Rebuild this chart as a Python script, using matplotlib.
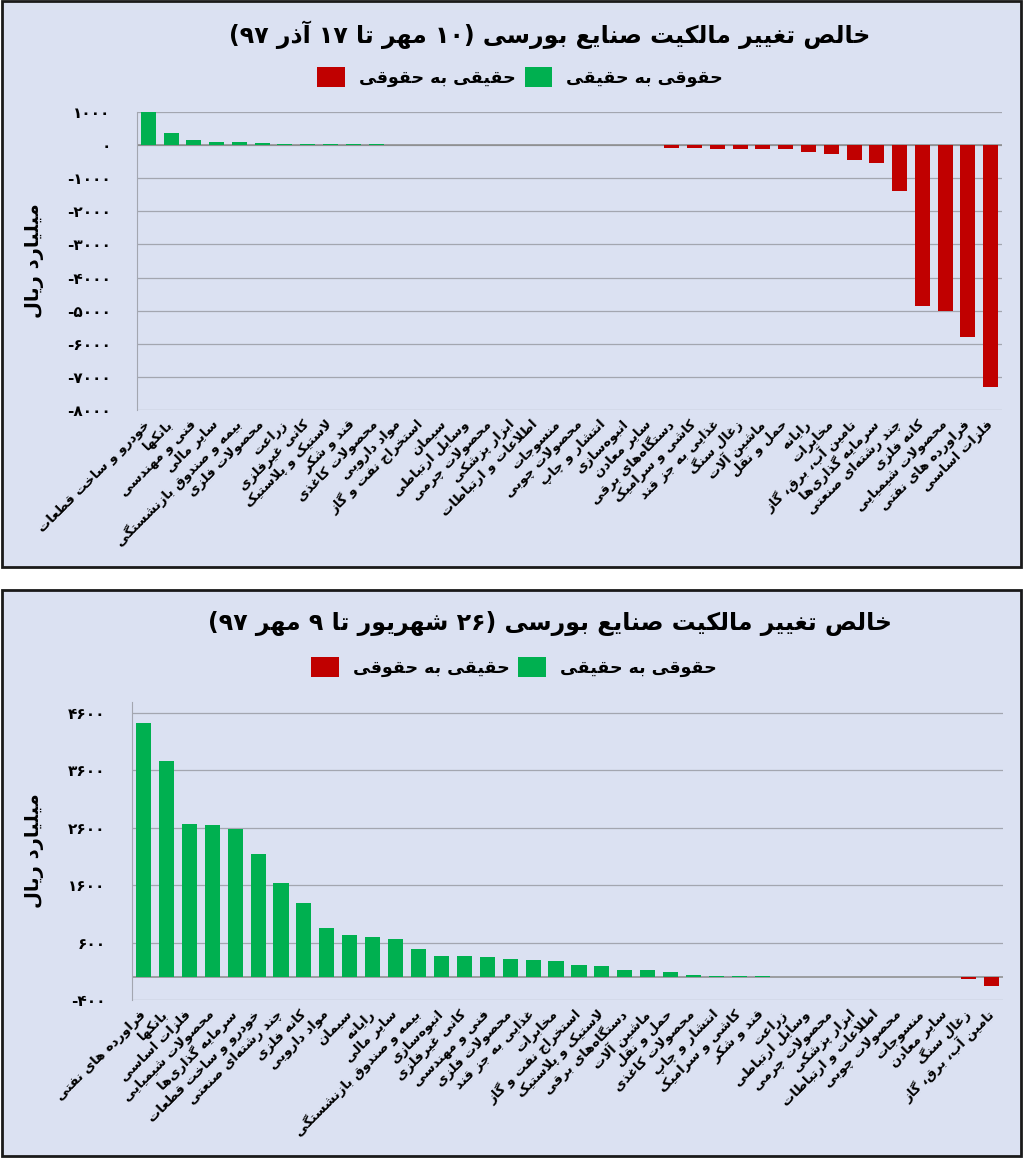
import re
import matplotlib
matplotlib.use('Agg')
import matplotlib.pyplot as plt
from matplotlib.patches import Rectangle, Patch

plt.rcParams['font.family'] = ['DejaVu Sans']
plt.rcParams['font.weight'] = 'bold'

# ---- data ----
title_top = 'خالص تغییر مالکیت صنایع بورسی (۱۰ مهر تا ۱۷ آذر ۹۷)'
title_bot = 'خالص تغییر مالکیت صنایع بورسی (۲۶ شهریور تا ۹ مهر ۹۷)'
legend_names = ['حقیقی به حقوقی', 'حقوقی به حقیقی']
ylabel = 'میلیارد ریال'

top_cats = [
    'خودرو و ساخت قطعات', 'بانکها', 'فنی و مهندسی', 'سایر مالی',
    'بیمه و صندوق بازنشستگی', 'محصولات فلزی', 'زراعت', 'کانی غیرفلزی',
    'لاستیک و پلاستیک', 'قند و شکر', 'محصولات کاغذی', 'مواد دارویی',
    'استخراج نفت و گاز', 'سیمان', 'وسایل ارتباطی', 'محصولات چرمی',
    'ابزار پزشکی', 'اطلاعات و ارتباطات', 'منسوجات', 'محصولات چوبی',
    'انتشار و چاپ', 'انبوه‌سازی', 'سایر معادن', 'دستگاه‌های برقی',
    'کاشی و سرامیک', 'غذایی به جز قند', 'زغال سنگ', 'ماشین آلات',
    'حمل و نقل', 'رایانه', 'مخابرات', 'تامین آب، برق، گاز',
    'سرمایه گذاری‌ها', 'چند رشته‌ای صنعتی', 'کانه فلزی', 'محصولات شیمیایی',
    'فراورده های نفتی', 'فلزات اساسی',
]
top_vals = [1000, 360, 150, 80, 100, 60, 40, 30, 30, 25, 20, 10, 5,
            3, 2, 1, 0, 0, 0, 0, 0, 0, 0,
            -80, -100, -130, -130, -130, -130, -200, -280, -450, -530,
            -1400, -4850, -5020, -5800, -7300]
top_ticks = [1000, 0, -1000, -2000, -3000, -4000, -5000, -6000, -7000, -8000]

bot_cats = [
    'فراورده های نفتی', 'بانکها', 'فلزات اساسی', 'محصولات شیمیایی',
    'سرمایه گذاری‌ها', 'خودرو و ساخت قطعات', 'چند رشته‌ای صنعتی', 'کانه فلزی',
    'مواد دارویی', 'سیمان', 'رایانه', 'سایر مالی',
    'بیمه و صندوق بازنشستگی', 'انبوه‌سازی', 'کانی غیرفلزی', 'فنی و مهندسی',
    'محصولات فلزی', 'غذایی به جز قند', 'مخابرات', 'استخراج نفت و گاز',
    'لاستیک و پلاستیک', 'دستگاه‌های برقی', 'ماشین آلات', 'حمل و نقل',
    'محصولات کاغذی', 'انتشار و چاپ', 'کاشی و سرامیک', 'قند و شکر',
    'زراعت', 'وسایل ارتباطی', 'محصولات چرمی', 'ابزار پزشکی',
    'اطلاعات و ارتباطات', 'محصولات چوبی', 'منسوجات', 'سایر معادن',
    'زغال سنگ', 'تامین آب، برق، گاز',
]
bot_vals = [4430, 3767, 2674, 2640, 2587, 2151, 1645, 1297, 855, 727, 698, 669,
            491, 366, 366, 354, 314, 291, 286, 217, 194, 126, 126, 91,
            34, 23, 17, 17, 8, 5, 4, 3, 2, 0, 0, 0, -34, -160]
bot_ticks = [4600, 3600, 2600, 1600, 600, -400]

GREEN = '#00b050'
RED = '#c00000'
BG = '#dbe1f2'

# ---- simple persian shaping (matplotlib has no complex text layout) ----
LA, LAA = '\ue000', '\ue001'
DUAL = {'ب': 0xFE8F, 'ت': 0xFE95, 'ث': 0xFE99, 'ج': 0xFE9D, 'ح': 0xFEA1,
        'خ': 0xFEA5, 'س': 0xFEB1, 'ش': 0xFEB5, 'ص': 0xFEB9, 'ض': 0xFEBD,
        'ط': 0xFEC1, 'ظ': 0xFEC5, 'ع': 0xFEC9, 'غ': 0xFECD, 'ف': 0xFED1,
        'ق': 0xFED5, 'ل': 0xFEDD, 'م': 0xFEE1, 'ن': 0xFEE5, 'ه': 0xFEE9,
        'ي': 0xFEF1, 'ك': 0xFED9,
        'پ': 0xFB56, 'چ': 0xFB7A, 'ک': 0xFB8E, 'گ': 0xFB92, 'ی': 0xFBFC}
RIGHT = {'ا': 0xFE8D, 'آ': 0xFE81, 'د': 0xFEA9, 'ذ': 0xFEAB, 'ر': 0xFEAD,
         'ز': 0xFEAF, 'ژ': 0xFB8A, 'و': 0xFEED, LA: 0xFEFB, LAA: 0xFEF5}
MIRROR = str.maketrans('()', ')(')
FA_DIGITS = str.maketrans('0123456789', '۰۱۲۳۴۵۶۷۸۹')


def shape(s):
    s = s.replace('لا', LA).replace('لآ', LAA)
    out = []
    for i, c in enumerate(s):
        if c in DUAL:
            base, dual = DUAL[c], True
        elif c in RIGHT:
            base, dual = RIGHT[c], False
        else:
            out.append(c)
            continue
        p = s[i - 1] if i > 0 else ''
        n = s[i + 1] if i + 1 < len(s) else ''
        jp = p in DUAL
        jn = dual and (n in DUAL or n in RIGHT)
        k = 3 if (jp and jn) else 1 if jp else 2 if jn else 0
        out.append(chr(base + k))
    return ''.join(out).replace('\u200c', '')


def visual(s):
    parts = re.findall(r'\d+|\D+', s)
    res = []
    for p in reversed(parts):
        res.append(p if p[0].isdigit() else p[::-1].translate(MIRROR))
    return ''.join(res)


def fa(s):
    return '\n'.join(visual(shape(line)) for line in s.split('\n'))


def fa_num(v):
    return ('-' if v < 0 else '') + str(abs(v)).translate(FA_DIGITS)


fig = plt.figure(figsize=(10.24, 11.58), dpi=100, facecolor='white')
W, H = 1024, 1158

# panel frames
for y0, y1 in [(1, 567), (590, 1156)]:
    fig.patches.append(Rectangle((2 / W, 1 - y1 / H), 1019 / W, (y1 - y0) / H,
                                 transform=fig.transFigure, facecolor=BG,
                                 edgecolor='#1a1a1a', linewidth=2, zorder=-10))


def draw_panel(rect, cats, vals, ylim, ticks, title, title_y, leg_y, leg_x):
    ax = fig.add_axes(rect)
    x = list(range(len(cats)))
    colors = [GREEN if v >= 0 else RED for v in vals]
    ax.bar(x, vals, width=0.66, color=colors, zorder=3)
    ax.set_xlim(-0.5, len(cats) - 0.5)
    ax.set_ylim(*ylim)
    ax.set_yticks(ticks)
    ax.set_yticklabels([fa_num(t) for t in ticks], fontsize=11, fontweight='bold')
    ax.set_xticks(x)
    ax.set_xticklabels([fa(c) for c in cats], rotation=45, ha='right',
                       va='center', rotation_mode='anchor', fontsize=9.5,
                       fontweight='bold')
    ax.tick_params(axis='both', length=0)
    ax.tick_params(axis='x', pad=9)
    ax.tick_params(axis='y', pad=19)
    ax.grid(axis='y', color='#a3a6b0', lw=0.9, zorder=0)
    ax.axhline(0, color='#8a8a8a', lw=1.1, zorder=2)
    for sp in ['top', 'right', 'bottom']:
        ax.spines[sp].set_visible(False)
    ax.spines['left'].set_color('#a3a6b0')
    ax.set_facecolor(BG)
    ax.set_ylabel(fa(ylabel), fontsize=14, fontweight='bold')
    ax.yaxis.set_label_coords(-(rect[0] * W - 44) / (rect[2] * W), 0.5)

    fig.text(0.537, 1 - title_y / H, fa(title), ha='center', va='center',
             fontsize=17, fontweight='bold')
    handles = [Patch(facecolor=RED), Patch(facecolor=GREEN)]
    fig.legend(handles, [fa(n) for n in legend_names], loc='center',
               bbox_to_anchor=(leg_x, 1 - leg_y / H), ncol=2, frameon=False,
               handlelength=1.6, handleheight=1.4,
               handletextpad=0.8, columnspacing=0.5,
               prop={'weight': 'bold', 'size': 12.5})
    return ax


draw_panel([137 / W, 1 - 410 / H, 865 / W, 298 / H], top_cats, top_vals,
           (-8000, 1000), top_ticks, title_top, 35, 77, 0.508)
draw_panel([132 / W, 1 - 1000 / H, 871 / W, 298.5 / H], bot_cats, bot_vals,
           (-400, 4800), bot_ticks, title_bot, 623, 667, 0.502)

fig.savefig('out.png', dpi=100, facecolor='white')
